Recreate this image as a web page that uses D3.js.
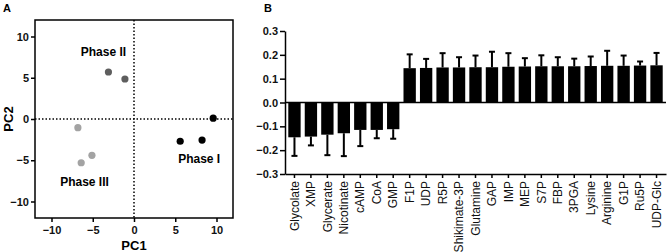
<!DOCTYPE html>
<html>
<head>
<meta charset="utf-8">
<script src="https://cdn.jsdelivr.net/npm/d3@7"></script>
<style>
  body { margin: 0; background: #fff; }
  svg { font-family: "Liberation Sans", Arial, sans-serif; }
</style>
</head>
<body>
<div id="chart"></div>
<script>
// panel A - PCA scores
var pcaX = [9.6, 5.6, 8.25, -3.1, -1.1, -6.8, -5.1, -6.4];
var pcaY = [0.1, -2.7, -2.55, 5.7, 4.85, -1.05, -4.4, -5.3];
var pcaPhase = ["I", "I", "I", "II", "II", "III", "III", "III"];
var phaseNames = ["Phase I", "Phase II", "Phase III"];
var phaseLabelX = [7.9, -3.7, -6.0];
var phaseLabelY = [-4.8, 8.1, -7.6];
var pcaTicks = [-10, -5, 0, 5, 10];

// panel B - loadings
var metabolites = ["Glycolate", "XMP", "Glycerate", "Nicotinate", "cAMP", "CoA", "GMP",
  "F1P", "UDP", "R5P", "Shikimate-3P", "Glutamine", "GAP", "IMP", "MEP", "S7P", "FBP",
  "3PGA", "Lysine", "Arginine", "G1P", "Ru5P", "UDP-Glc"];
var loadings = [-0.146, -0.143, -0.135, -0.129, -0.115, -0.115, -0.112,
  0.144, 0.145, 0.147, 0.147, 0.148, 0.148, 0.150, 0.151, 0.152, 0.152,
  0.152, 0.153, 0.154, 0.154, 0.155, 0.156];
var loadingErr = [0.078, 0.037, 0.086, 0.096, 0.068, 0.035, 0.040,
  0.058, 0.038, 0.060, 0.043, 0.049, 0.065, 0.057, 0.035, 0.046, 0.038,
  0.032, 0.040, 0.063, 0.043, 0.017, 0.052];
var loadingTicks = [-0.3, -0.2, -0.1, 0.0, 0.1, 0.2, 0.3];

var W = 669, H = 252;
var svg = d3.select("#chart").append("svg")
    .attr("width", W)
    .attr("height", H);

// ---------- A ----------
var ax = d3.scaleLinear().domain([-12, 12]).range([35, 233]);
var ay = d3.scaleLinear().domain([-12, 12]).range([218, 20]);
var phaseColor = {"I": "#000000", "II": "#5e5e5e", "III": "#a3a3a3"};

svg.append("text").attr("x", 3).attr("y", 12)
    .style("font-size", "11px").style("font-weight", "bold").text("A");

// frame
svg.append("rect")
    .attr("x", ax(-12)).attr("y", ay(12))
    .attr("width", ax(12) - ax(-12)).attr("height", ay(-12) - ay(12))
    .attr("fill", "none").attr("stroke", "#000").attr("stroke-width", 1.5);

// dotted zero lines
svg.append("line")
    .attr("x1", ax(0)).attr("x2", ax(0)).attr("y1", ay(12)).attr("y2", ay(-12))
    .attr("stroke", "#000").attr("stroke-width", 1.5).attr("stroke-dasharray", "1.5,2");
svg.append("line")
    .attr("x1", ax(-12)).attr("x2", ax(12)).attr("y1", ay(0)).attr("y2", ay(0))
    .attr("stroke", "#000").attr("stroke-width", 1.5).attr("stroke-dasharray", "1.5,2");

var axA_x = svg.append("g")
    .attr("transform", "translate(0," + ay(-12) + ")")
    .call(d3.axisBottom(ax).tickValues(pcaTicks).tickSize(4).tickPadding(4));
var axA_y = svg.append("g")
    .attr("transform", "translate(" + ax(-12) + ",0)")
    .call(d3.axisLeft(ay).tickValues(pcaTicks).tickSize(4).tickPadding(2));
[axA_x, axA_y].forEach(function(g){
    g.select(".domain").remove();
    g.selectAll("line").attr("stroke-width", 1.5);
    g.selectAll("text").style("font-size", "11px").style("font-weight", "bold")
        .style("font-family", "Liberation Sans, Arial, sans-serif").attr("fill", "#111");
});

svg.selectAll(".pt")
    .data(pcaX)
    .enter().append("circle")
    .attr("class", "pt")
    .attr("cx", function(d){ return ax(d); })
    .attr("cy", function(d, i){ return ay(pcaY[i]); })
    .attr("r", 3.6)
    .attr("fill", function(d, i){ return phaseColor[pcaPhase[i]]; });

svg.selectAll(".phase")
    .data(phaseNames)
    .enter().append("text")
    .attr("class", "phase")
    .attr("x", function(d, i){ return ax(phaseLabelX[i]); })
    .attr("y", function(d, i){ return ay(phaseLabelY[i]) + 4; })
    .attr("text-anchor", "middle")
    .style("font-size", "12px").style("font-weight", "bold")
    .text(function(d){ return d; });

svg.append("text")
    .attr("x", ax(0)).attr("y", 250)
    .attr("text-anchor", "middle")
    .style("font-size", "13px").style("font-weight", "bold")
    .text("PC1");
svg.append("text")
    .attr("transform", "translate(13," + ay(0) + ") rotate(-90)")
    .attr("text-anchor", "middle")
    .style("font-size", "13px").style("font-weight", "bold")
    .text("PC2");

// ---------- B ----------
var bx = d3.scaleBand().domain(metabolites).range([285, 666])
    .paddingInner(0.25).paddingOuter(0.2);
var by = d3.scaleLinear().domain([-0.3, 0.3]).range([174, 31]);

svg.append("text").attr("x", 264).attr("y", 12)
    .style("font-size", "11px").style("font-weight", "bold").text("B");

var axB_y = svg.append("g")
    .attr("transform", "translate(285,0)")
    .call(d3.axisLeft(by).tickValues(loadingTicks).tickSize(5).tickPadding(2)
        .tickFormat(d3.format(".1f")).tickSizeOuter(0));
axB_y.selectAll("text").style("font-size", "11px").style("font-weight", "bold")
    .style("font-family", "Liberation Sans, Arial, sans-serif").attr("fill", "#111");
axB_y.selectAll("line, path").attr("stroke-width", 1.5);

var axB_x = svg.append("g")
    .attr("transform", "translate(0," + by(-0.3) + ")")
    .call(d3.axisBottom(bx).tickSize(4).tickSizeOuter(0));
axB_x.selectAll("line, path").attr("stroke-width", 1.5);
axB_x.selectAll("text")
    .style("font-size", "12px")
    .style("font-family", "Liberation Sans, Arial, sans-serif")
    .attr("fill", "#111")
    .attr("text-anchor", "end")
    .attr("transform", "rotate(-90)")
    .attr("x", -7).attr("y", 0).attr("dy", "0.35em");

// zero line
svg.append("line")
    .attr("x1", 285).attr("x2", 666).attr("y1", by(0)).attr("y2", by(0))
    .attr("stroke", "#000").attr("stroke-width", 1.5);

// error bars
var errG = svg.append("g");
metabolites.forEach(function(m, i){
    var cx = bx(m) + bx.bandwidth() / 2;
    var v = loadings[i];
    var end = v < 0 ? v - loadingErr[i] : v + loadingErr[i];
    errG.append("line")
        .attr("x1", cx).attr("x2", cx).attr("y1", by(v)).attr("y2", by(end))
        .attr("stroke", "#000").attr("stroke-width", 2);
    errG.append("line")
        .attr("x1", cx - 3).attr("x2", cx + 3).attr("y1", by(end)).attr("y2", by(end))
        .attr("stroke", "#000").attr("stroke-width", 2);
});

svg.selectAll(".bar")
    .data(loadings)
    .enter().append("rect")
    .attr("class", "bar")
    .attr("x", function(d, i){ return bx(metabolites[i]); })
    .attr("y", function(d){ return by(Math.max(0, d)); })
    .attr("width", bx.bandwidth())
    .attr("height", function(d){ return Math.abs(by(d) - by(0)); })
    .attr("fill", "#000");
</script>
</body>
</html>
